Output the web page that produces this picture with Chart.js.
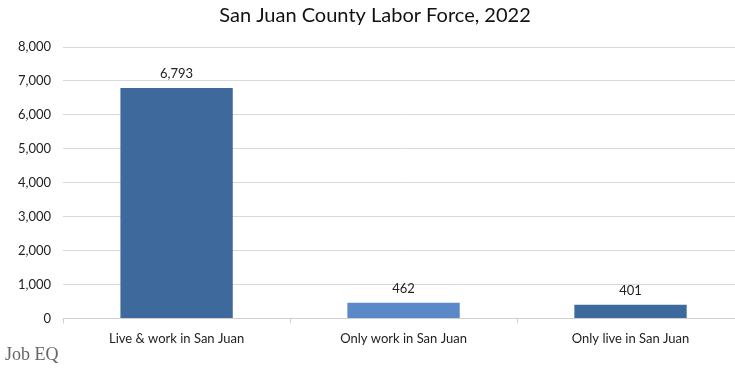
<!DOCTYPE html>
<html>
<head>
<meta charset="utf-8">
<script src="https://cdn.jsdelivr.net/npm/chart.js@4"></script>
<style>
  html, body { margin: 0; padding: 0; background: #fff; overflow: hidden; }
  #wrap { position: relative; width: 745px; height: 368px; }
  #source { position: absolute; left: 5px; top: 344px; font-family: "Liberation Serif", "DejaVu Serif", serif; font-size: 18px; color: #666; }
</style>
</head>
<body>
<div id="wrap">
  <canvas id="laborChart" width="745" height="368"></canvas>
  <div id="source">Job EQ</div>
</div>
<script>
// Chart data
var categories = ['Live & work in San Juan', 'Only work in San Juan', 'Only live in San Juan'];
var workers = [6793, 462, 401];
var yTicks = [0, 1000, 2000, 3000, 4000, 5000, 6000, 7000, 8000];

var barColors = ['#3E699D', '#5B88C9', '#3E699D'];

// Draw the value above each bar
var valueLabels = {
    id: 'valueLabels',
    afterDatasetsDraw: function(chart) {
        var ctx = chart.ctx;
        var meta = chart.getDatasetMeta(0);
        ctx.save();
        ctx.font = '13px Lato';
        ctx.fillStyle = '#222';
        ctx.textAlign = 'center';
        ctx.textBaseline = 'middle';
        meta.data.forEach(function(bar, i) {
            ctx.fillText(workers[i].toLocaleString('en-US'), bar.x, bar.y - 14);
        });
        ctx.restore();
    }
};

var ctx = document.getElementById('laborChart').getContext('2d');

var laborChart = new Chart(ctx, {
    type: 'bar',
    data: {
        labels: categories,
        datasets: [{
            data: workers,
            backgroundColor: barColors,
            borderWidth: 0,
            categoryPercentage: 1,
            barPercentage: 0.495
        }]
    },
    options: {
        responsive: false,
        animation: false,
        layout: { padding: { left: 6, right: 1, top: 0, bottom: 13 } },
        plugins: {
            legend: { display: false },
            tooltip: { enabled: false },
            title: {
                display: true,
                text: 'San Juan County Labor Force, 2022',
                color: '#111',
                font: { family: 'Lato', size: 20, weight: 'normal' },
                padding: { top: 4, bottom: 19 }
            }
        },
        scales: {
            x: {
                grid: {
                    offset: true,
                    drawOnChartArea: false,
                    drawTicks: true,
                    tickLength: 5,
                    color: '#d0d0d0'
                },
                border: { color: '#d0d0d0' },
                ticks: {
                    color: '#222',
                    font: { family: 'Lato', size: 13 },
                    padding: 8
                }
            },
            y: {
                min: 0,
                max: 8000,
                afterBuildTicks: function(axis) {
                    axis.ticks = yTicks.map(function(v) { return { value: v }; });
                },
                grid: {
                    color: '#d9d9d9',
                    drawTicks: false
                },
                border: { display: false },
                ticks: {
                    color: '#222',
                    font: { family: 'Lato', size: 13 },
                    padding: 12,
                    callback: function(value) { return value.toLocaleString('en-US'); }
                }
            }
        }
    },
    plugins: [valueLabels]
});
</script>
</body>
</html>
